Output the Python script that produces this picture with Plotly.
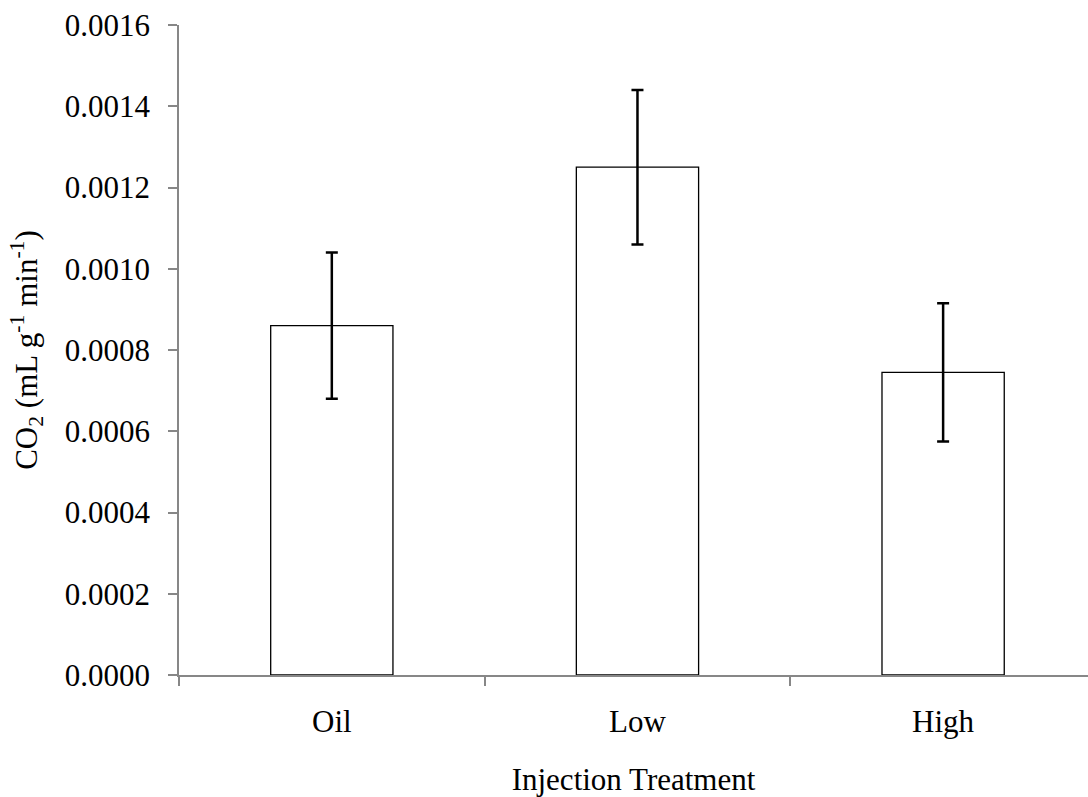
import plotly.graph_objects as go

# Mean CO2 production per injection treatment, with error bar half-widths
treatments = ["Oil", "Low", "High"]
co2_mean = [0.00086, 0.00125, 0.000745]
co2_err = [0.00018, 0.00019, 0.00017]

y_ticks = [0.0, 0.0002, 0.0004, 0.0006, 0.0008, 0.0010, 0.0012, 0.0014, 0.0016]

FONT = "Liberation Serif, Times New Roman, serif"
AXIS_GREY = "#878787"
TEXT_SIZE = 31

fig = go.Figure(
    go.Bar(
        x=treatments,
        y=co2_mean,
        width=0.4,
        marker=dict(color="white", line=dict(color="black", width=1.3)),
        error_y=dict(
            type="data",
            array=co2_err,
            visible=True,
            color="black",
            thickness=2.5,
            width=6,
        ),
    )
)

fig.update_layout(
    width=1088,
    height=797,
    margin=dict(l=179, r=0, t=25, b=122),
    paper_bgcolor="white",
    plot_bgcolor="white",
    showlegend=False,
    font=dict(family=FONT, size=TEXT_SIZE, color="black"),
    xaxis=dict(
        range=[-0.5, 2.474],
        showline=True,
        linecolor=AXIS_GREY,
        linewidth=1.5,
        ticks="outside",
        tickson="boundaries",
        ticklen=9,
        tickcolor=AXIS_GREY,
        tickwidth=1.5,
        showgrid=False,
        zeroline=False,
        tickfont=dict(family=FONT, size=TEXT_SIZE),
        ticklabelstandoff=18,
        title=dict(text="Injection Treatment", standoff=30,
                   font=dict(family=FONT, size=TEXT_SIZE)),
    ),
    yaxis=dict(
        range=[0, 0.0016],
        tickvals=y_ticks,
        tickformat=".4f",
        showline=True,
        linecolor=AXIS_GREY,
        linewidth=1.5,
        ticks="outside",
        ticklen=9,
        tickcolor=AXIS_GREY,
        tickwidth=1.5,
        showgrid=False,
        zeroline=False,
        tickfont=dict(family=FONT, size=TEXT_SIZE),
        ticklabelstandoff=12,
        title=dict(
            text="CO<sub>2</sub> (mL g<sup>-1</sup> min<sup>-1</sup>)",
            standoff=18,
            font=dict(family=FONT, size=TEXT_SIZE),
        ),
    ),
)

fig.write_html("out.html")
